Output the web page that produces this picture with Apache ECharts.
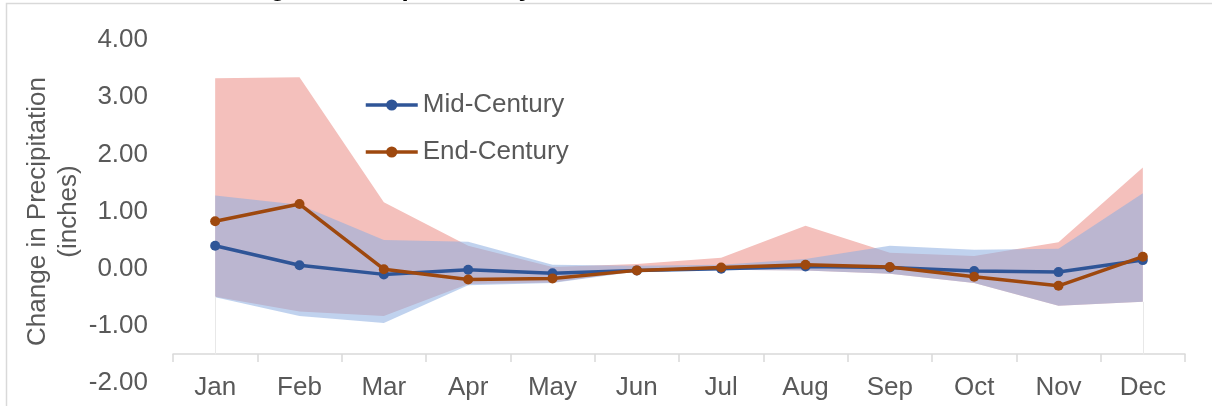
<!DOCTYPE html>
<html>
<head>
<meta charset="utf-8">
<script src="https://cdn.jsdelivr.net/npm/echarts@6/dist/echarts.min.js"></script>
<style>
  html, body { margin: 0; padding: 0; background: #fff; }
  #chart { width: 1212px; height: 406px; }
</style>
</head>
<body>
<div id="chart"></div>
<script>
// Monthly change in precipitation (inches)
const months = ['Jan', 'Feb', 'Mar', 'Apr', 'May', 'Jun', 'Jul', 'Aug', 'Sep', 'Oct', 'Nov', 'Dec'];

// Ensemble means
const midCentury = [0.40, 0.06, -0.10, -0.02, -0.08, -0.03, 0.00, 0.04, 0.02, -0.04, -0.06, 0.15];
const endCentury = [0.83, 1.13, -0.01, -0.19, -0.17, -0.03, 0.02, 0.07, 0.03, -0.14, -0.30, 0.21];

// Model ranges (low / high)
const midLow  = [-0.50, -0.83, -0.95, -0.29, -0.25, -0.05, -0.02, -0.03, -0.09, -0.25, -0.65, -0.58];
const midHigh = [1.28, 1.12, 0.50, 0.47, 0.07, 0.05, 0.07, 0.17, 0.40, 0.33, 0.35, 1.32];
const endLow  = [-0.49, -0.75, -0.83, -0.27, -0.24, -0.04, -0.02, -0.03, -0.09, -0.25, -0.65, -0.58];
const endHigh = [3.33, 3.35, 1.16, 0.40, 0.03, 0.08, 0.19, 0.75, 0.28, 0.22, 0.46, 1.77];

// Y axis
const yMin = -2, yMax = 4, yStep = 1;
const axisCross = -1.5;

const seriesNames = ['Mid-Century', 'End-Century'];

const span = (lo, hi) => hi.map((v, i) => +(v - lo[i]).toFixed(2));

const FONT = 'Liberation Sans, Arial, sans-serif';
const GRAY = '#595959';

const chart = echarts.init(document.getElementById('chart'), null, { renderer: 'canvas' });

const hiddenBase = (name, stack, data) => ({
  name, type: 'line', stack, stackStrategy: 'all', data,
  symbol: 'none', silent: true, lineStyle: { opacity: 0 },
  emphasis: { disabled: true }, z: 1
});

chart.setOption({
  animation: false,
  backgroundColor: '#fff',
  title: {
    text: 'Change in Precipitation by Month',
    left: 200, top: -29,
    textStyle: { fontFamily: FONT, fontSize: 26, fontWeight: 'bold', color: '#000' }
  },
  graphic: [{
    type: 'rect', silent: true, z: 100,
    shape: { x: 6.5, y: 3.5, width: 1400, height: 600 },
    style: { fill: null, stroke: '#d9d9d9', lineWidth: 1.5 }
  }],
  legend: {
    data: seriesNames,
    orient: 'vertical',
    left: 359, top: 87,
    itemWidth: 52, itemHeight: 14, itemGap: 21,
    lineStyle: { width: 3.5 },
    textStyle: { fontFamily: FONT, fontSize: 26, color: GRAY }
  },
  grid: { left: 173, right: 27, top: 40, bottom: 23 },
  xAxis: {
    type: 'category',
    data: months,
    boundaryGap: true,
    position: 'bottom',
    offset: -29,
    axisLine: { show: true, onZero: false, lineStyle: { color: '#d9d9d9', width: 1.5 } },
    axisTick: { show: true, length: 8, lineStyle: { color: '#d9d9d9', width: 1.5 } },
    axisLabel: { margin: 21, fontFamily: FONT, fontSize: 26, color: GRAY },
    splitLine: { show: false }
  },
  yAxis: {
    type: 'value',
    min: yMin, max: yMax, interval: yStep,
    name: 'Change in Precipitation\n(inches)',
    nameLocation: 'middle',
    nameRotate: 90,
    nameGap: 89,
    nameMoveOverlap: false,
    nameTextStyle: { fontFamily: FONT, fontSize: 26, color: GRAY, lineHeight: 31 },
    axisLine: { show: false },
    axisTick: { show: false },
    splitLine: { show: false },
    axisLabel: {
      margin: 25, fontFamily: FONT, fontSize: 26, color: GRAY,
      formatter: v => v.toFixed(2)
    }
  },
  series: [
    Object.assign(hiddenBase('endBase', 'end', endLow), {
      markLine: {
        silent: true, symbol: 'none', label: { show: false },
        lineStyle: { color: '#e8e8e8', width: 1, type: 'solid' },
        data: [
          [{ coord: [0, axisCross] }, { coord: [0, endLow[0]] }],
          [{ coord: [11, axisCross] }, { coord: [11, endLow[11]] }]
        ]
      }
    }),
    {
      name: 'endRange', type: 'line', stack: 'end', stackStrategy: 'all',
      data: span(endLow, endHigh),
      symbol: 'none', silent: true, lineStyle: { opacity: 0 },
      areaStyle: { color: '#f4c0bc', opacity: 1 }, z: 1
    },
    hiddenBase('midBase', 'mid', midLow),
    {
      name: 'midRange', type: 'line', stack: 'mid', stackStrategy: 'all',
      data: span(midLow, midHigh),
      symbol: 'none', silent: true, lineStyle: { opacity: 0 },
      areaStyle: { color: 'rgb(140,173,224)', opacity: 0.55 }, z: 2
    },
    {
      name: seriesNames[0], type: 'line', data: midCentury,
      symbol: 'circle', symbolSize: 10,
      itemStyle: { color: '#2f5597' },
      lineStyle: { color: '#2f5597', width: 3.5 }, z: 3
    },
    {
      name: seriesNames[1], type: 'line', data: endCentury,
      symbol: 'circle', symbolSize: 10,
      itemStyle: { color: '#9e480e' },
      lineStyle: { color: '#9e480e', width: 3.5 }, z: 4
    }
  ]
});
</script>
</body>
</html>
